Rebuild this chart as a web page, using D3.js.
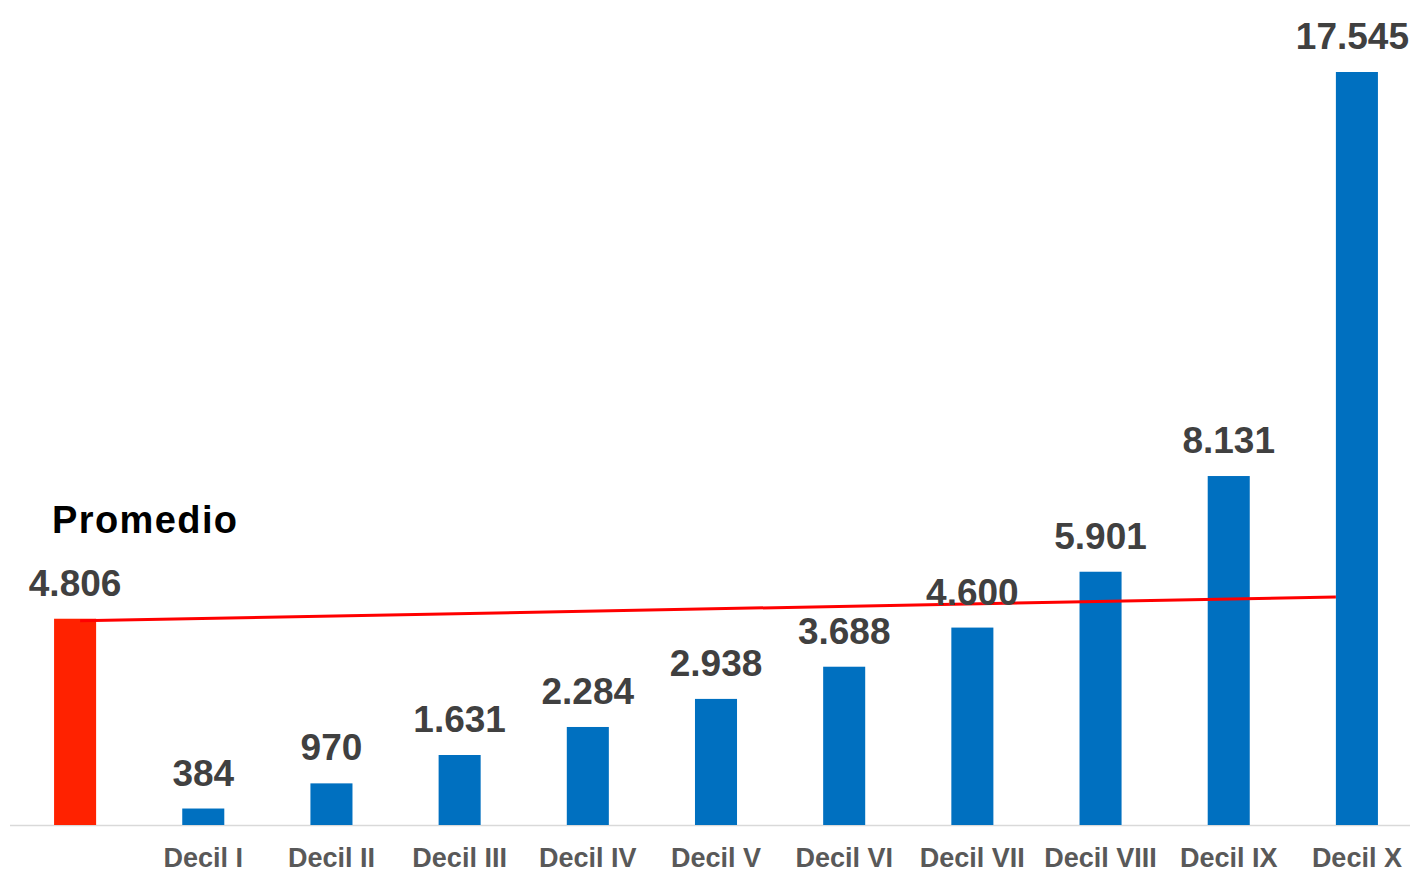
<!DOCTYPE html>
<html><head><meta charset="utf-8">
<script src="https://cdn.jsdelivr.net/npm/d3@7"></script>
<style>body{margin:0;background:#fff}svg{display:block}</style>
</head><body>
<script>
const categories = ["Promedio","Decil I","Decil II","Decil III","Decil IV","Decil V","Decil VI","Decil VII","Decil VIII","Decil IX","Decil X"];
const values = [4806,384,970,1631,2284,2938,3688,4600,5901,8131,17545];
const valueLabels = ["4.806","384","970","1.631","2.284","2.938","3.688","4.600","5.901","8.131","17.545"];
const axisLabels = ["","Decil I","Decil II","Decil III","Decil IV","Decil V","Decil VI","Decil VII","Decil VIII","Decil IX","Decil X"];
const lineValues = [4760, 5310]; // red reference line, start (Promedio) to end (Decil X)

const W = 1410, H = 872;
const svg = d3.select("body").append("svg").attr("width", W).attr("height", H);

const x = d3.scaleBand().domain(categories).range([11, 1421]).paddingInner(0.672).paddingOuter(0.336);
const y = d3.scaleLinear().domain([0, 17545]).range([825, 72]);

// axis line
svg.append("line").attr("x1", 10).attr("x2", W).attr("y1", y(0)+0.5).attr("y2", y(0)+0.5)
  .attr("stroke", "#d9d9d9").attr("stroke-width", 1.5);

// bars
svg.selectAll("rect.bar").data(categories).join("rect")
  .attr("x", d => x(d)).attr("width", x.bandwidth())
  .attr("y", (d,i) => y(values[i])).attr("height", (d,i) => y(0) - y(values[i]))
  .attr("fill", (d,i) => i === 0 ? "#ff2200" : "#0070c0");

// red line
svg.append("line")
  .attr("x1", x(categories[0]) + x.bandwidth()*0.62).attr("y1", y(lineValues[0]))
  .attr("x2", x(categories[10])).attr("y2", y(lineValues[1]))
  .attr("stroke", "#ff0000").attr("stroke-width", 3);

// value labels
svg.selectAll("text.val").data(categories).join("text")
  .attr("font-family", "Liberation Sans, Arial, sans-serif")
  .attr("font-weight", "bold").attr("font-size", 37)
  .attr("fill", "#404040")
  .attr("y", (d,i) => y(values[i]) - 23)
  .text((d,i) => valueLabels[i])
  .each(function(d) {
    const t = d3.select(this);
    const cx = x(d) + x.bandwidth()/2;
    const w = this.getComputedTextLength();
    if (cx + w/2 > W - 1) {
      t.attr("x", W - 1).attr("text-anchor", "end");
    } else {
      t.attr("x", cx).attr("text-anchor", "middle");
    }
  });

// category labels
svg.selectAll("text.cat").data(categories).join("text")
  .attr("x", d => x(d) + x.bandwidth()/2)
  .attr("y", 867)
  .attr("text-anchor", "middle")
  .attr("font-family", "Liberation Sans, Arial, sans-serif")
  .attr("font-weight", "bold").attr("font-size", 27)
  .attr("fill", "#595959")
  .text((d,i) => axisLabels[i]);

// Promedio title
svg.append("text").attr("x", 52).attr("y", 533)
  .attr("font-family", "Liberation Sans, Arial, sans-serif")
  .attr("font-weight", "bold").attr("font-size", 38)
  .attr("letter-spacing", 1.4)
  .attr("fill", "#000").text("Promedio");
</script>
</body></html>
